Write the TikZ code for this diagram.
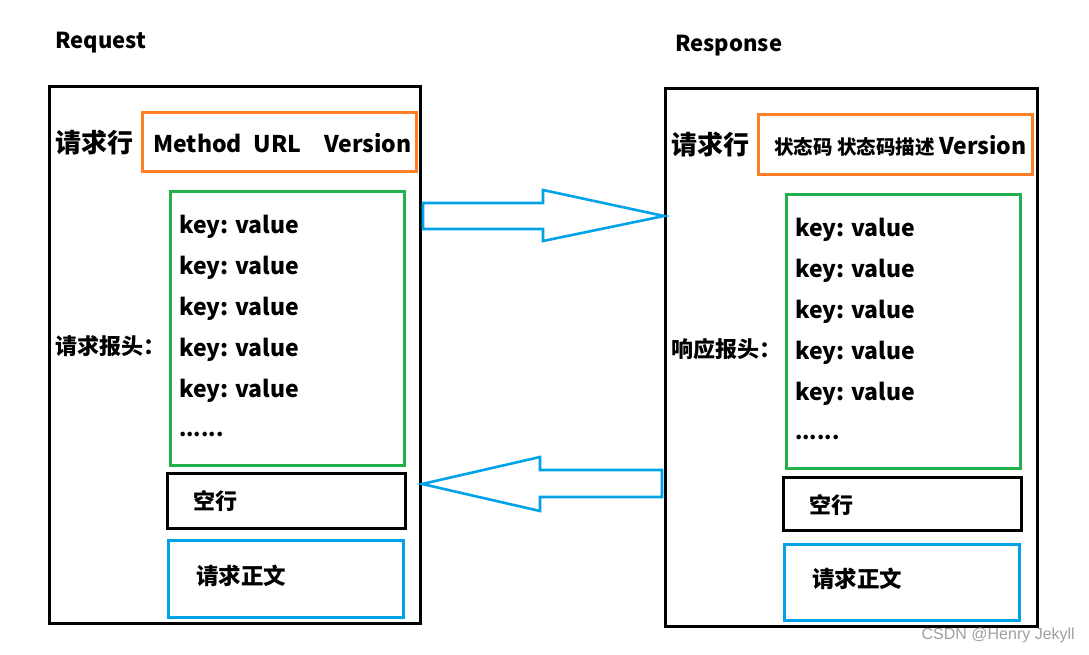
\documentclass[tikz,border=0pt]{standalone}
\usepackage{fontspec}
\setmainfont{Noto Sans CJK SC}
\newfontfamily\wmfont{Liberation Sans}
\definecolor{porange}{RGB}{255,127,39}
\definecolor{pgreen}{RGB}{34,177,76}
\definecolor{pblue}{RGB}{0,162,232}
\definecolor{wm}{RGB}{160,160,160}
\begin{document}
\begin{tikzpicture}[x=1pt,y=-1pt,
  box/.style={draw, line width=3.2pt, inner sep=0pt, anchor=north west},
  txt/.style={inner sep=0pt, anchor=west, font=\bfseries},
  bigarrow/.style={draw=pblue, line width=2.6pt, line join=miter}]
\useasboundingbox (0,0) rectangle (1089,654);
\fill[white] (0,0) rectangle (1089,654);

% titles
\node[txt, font=\bfseries\fontsize{22}{22}\selectfont] (treq) at (55,43) {Request};
\node[txt, font=\bfseries\fontsize{22}{22}\selectfont] (tres) at (675,46) {Response};

% ---------- Request ----------
\node[box, minimum width=371pt, minimum height=537pt] (req) at (48,85) {};
\node[box, draw=porange, minimum width=274pt, minimum height=59pt] (reqline) at (141,111) {};
\node[txt, font=\bfseries\fontsize{26}{26}\selectfont] (reqlinelab) at (55,143) {请求行};
\node[txt, font=\bfseries\fontsize{23}{23}\selectfont] (reqlinetxt) at (153,143) {Method\hspace{0.5em}URL\hspace{1em}Version};
\node[box, draw=pgreen, minimum width=234pt, minimum height=274pt] (reqhead) at (169,190) {};
\node[txt, font=\bfseries\fontsize{22}{22}\selectfont] (reqheadlab) at (55,346) {请求报头：};
\foreach \y [count=\i] in {227,268,309,350,391}
  \node[txt, font=\bfseries\fontsize{23}{23}\selectfont] (rk\i) at (179,\y) {key: value};
\node[txt, font=\bfseries\fontsize{21}{21}\selectfont] (rkdots) at (179,434) {......};
\node[box, minimum width=238pt, minimum height=55pt] (reqempty) at (166,472) {};
\node[txt, font=\bfseries\fontsize{22}{22}\selectfont] (reqemptytxt) at (193,501) {空行};
\node[box, draw=pblue, minimum width=235pt, minimum height=77pt] (reqbody) at (167,539) {};
\node[txt, font=\bfseries\fontsize{22.5}{22.5}\selectfont] (reqbodytxt) at (196,576) {请求正文};

% ---------- Response ----------
\node[box, minimum width=372pt, minimum height=538pt] (res) at (664,87) {};
\node[box, draw=porange, minimum width=274pt, minimum height=60pt] (resline) at (757,113) {};
\node[txt, font=\bfseries\fontsize{26}{26}\selectfont] (reslinelab) at (671,145) {请求行};
\node[txt, font=\bfseries\fontsize{23}{23}\selectfont] (reslinetxt) at (774,146) {{\fontsize{19.5}{19.5}\selectfont 状态码 状态码描述}\hspace{0.2em}Version};
\node[box, draw=pgreen, minimum width=234pt, minimum height=274pt] (reshead) at (785,193) {};
\node[txt, font=\bfseries\fontsize{22}{22}\selectfont] (resheadlab) at (671,349) {响应报头：};
\foreach \y [count=\i] in {230,271,312,353,394}
  \node[txt, font=\bfseries\fontsize{23}{23}\selectfont] (sk\i) at (795,\y) {key: value};
\node[txt, font=\bfseries\fontsize{21}{21}\selectfont] (skdots) at (795,437) {......};
\node[box, minimum width=238pt, minimum height=53pt] (resempty) at (782,476) {};
\node[txt, font=\bfseries\fontsize{22}{22}\selectfont] (resemptytxt) at (809,505) {空行};
\node[box, draw=pblue, minimum width=235pt, minimum height=76pt] (resbody) at (783,543) {};
\node[txt, font=\bfseries\fontsize{22.5}{22.5}\selectfont] (resbodytxt) at (812,579) {请求正文};

% ---------- arrows ----------
\coordinate (a1tip) at (res.west |- 0,216);
\coordinate (a2tip) at (req.east |- 0,484);
\draw[bigarrow] (423,203) -- (543,203) -- (543,190) -- (a1tip) -- (543,241) -- (543,229) -- (423,229) -- cycle;
\draw[bigarrow] (a2tip) -- (540,457) -- (540,470) -- (662,470) -- (662,497) -- (540,497) -- (540,511) -- cycle;

% watermark
\node[inner sep=0pt, anchor=east, text=wm, font=\wmfont\fontsize{16}{16}\selectfont] (wmark) at (1075,635) {CSDN @Henry Jekyll};
\end{tikzpicture}
\end{document}
